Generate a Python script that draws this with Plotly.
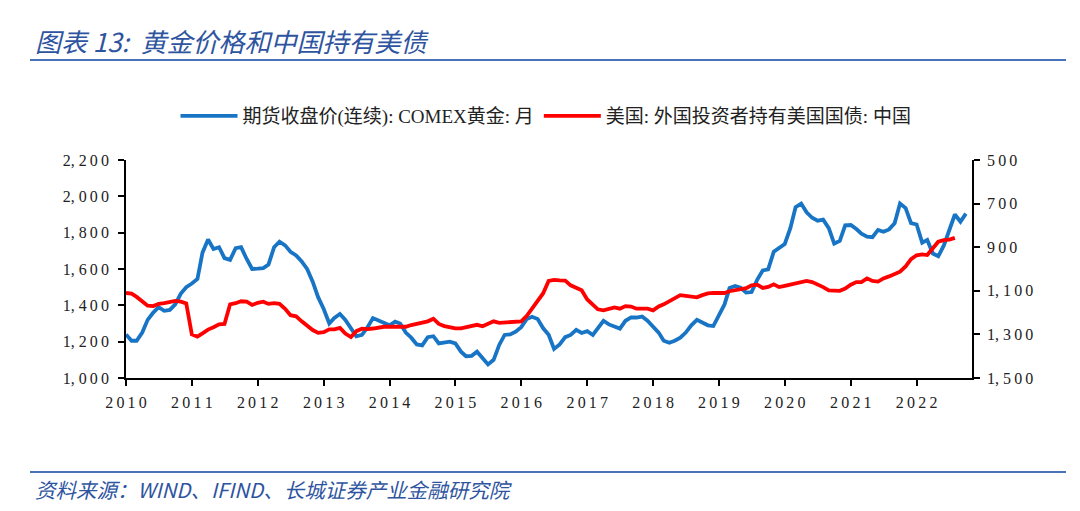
import plotly.graph_objects as go
import pandas as pd

# COMEX gold monthly close (left axis), Jan 2010 onwards
gold = [1240, 1205, 1205, 1250, 1320, 1360, 1390, 1370, 1375, 1405, 1465, 1500,
        1520, 1545, 1690, 1762, 1710, 1720, 1660, 1650, 1715, 1720, 1655, 1600,
        1602, 1605, 1625, 1720, 1750, 1730, 1695, 1675, 1642, 1600, 1530, 1445,
        1380, 1300, 1330, 1352, 1320, 1275, 1230, 1238, 1280, 1330, 1315, 1300,
        1290, 1310, 1300, 1250, 1222, 1185, 1180, 1225, 1230, 1190, 1195, 1200,
        1190, 1145, 1120, 1122, 1145, 1110, 1075, 1100, 1182, 1237, 1240, 1255,
        1280, 1325, 1337, 1325, 1275, 1238, 1160, 1185, 1225, 1237, 1265, 1248,
        1258, 1237, 1275, 1315, 1295, 1282, 1272, 1315, 1334, 1333, 1338, 1315,
        1285, 1250, 1205, 1194, 1205, 1222, 1250, 1290, 1320, 1308, 1290, 1286,
        1345, 1405, 1495, 1506, 1497, 1470, 1473, 1540, 1592, 1598, 1695, 1718,
        1738, 1825, 1940, 1960, 1912, 1882, 1866, 1872, 1825, 1740, 1755, 1840,
        1842, 1820, 1795, 1778, 1775, 1815, 1805, 1818, 1852, 1960, 1935, 1853,
        1845, 1745, 1760, 1685, 1670, 1730, 1810, 1900, 1860, 1905]

# Foreign holdings of US Treasuries: China (right axis, reversed)
ust_china = [1110, 1113, 1128, 1148, 1168, 1170, 1160, 1157, 1152, 1146, 1150, 1158,
             1300, 1310, 1295, 1278, 1267, 1254, 1252, 1162, 1157, 1148, 1150, 1165,
             1155, 1150, 1160, 1157, 1160, 1183, 1212, 1217, 1240, 1262, 1280, 1293,
             1290, 1277, 1277, 1270, 1296, 1312, 1285, 1274, 1276, 1273, 1268, 1265,
             1265, 1266, 1268, 1265, 1257, 1250, 1246, 1240, 1228, 1252, 1262, 1267,
             1272, 1272, 1268, 1260, 1256, 1263, 1250, 1240, 1247, 1245, 1242, 1242,
             1240, 1215, 1182, 1150, 1112, 1055, 1050, 1052, 1053, 1075, 1088, 1098,
             1140, 1166, 1185, 1190, 1183, 1176, 1182, 1170, 1172, 1182, 1182, 1182,
             1190, 1172, 1162, 1148, 1132, 1120, 1123, 1126, 1130, 1120, 1112, 1110,
             1110, 1110, 1102, 1097, 1094, 1088, 1075, 1072, 1087, 1082, 1070, 1083,
             1077, 1072, 1068, 1062, 1055, 1060, 1070, 1083, 1098, 1101, 1100, 1090,
             1072, 1060, 1060, 1043, 1055, 1058, 1043, 1034, 1025, 1012, 988, 955,
             937, 933, 936, 908, 875, 868, 865, 857]

years = list(range(2010, 2023))
left_ticks = [1000, 1200, 1400, 1600, 1800, 2000, 2200]
left_labels = ["1, 000", "1, 200", "1, 400", "1, 600", "1, 800", "2, 000", "2, 200"]
right_ticks = [500, 700, 900, 1100, 1300, 1500]
right_labels = ["500", "700", "900", "1, 100", "1, 300", "1, 500"]

name_gold = "期货收盘价(连续): COMEX黄金: 月"
name_ust = "美国: 外国投资者持有美国国债: 中国"
title_text = "图表 13:  黄金价格和中国持有美债"
source_text = "资料来源：WIND、IFIND、长城证券产业金融研究院"

TS = "\u2009"  # thin space to mimic the wide digit spacing


def spaced(s):
    return TS.join(s).replace(TS + "," + TS + " " + TS, ", ").replace(TS + " " + TS, " ")


dates_gold = pd.date_range("2010-01-01", periods=len(gold), freq="MS")
dates_ust = pd.date_range("2010-01-01", periods=len(ust_china), freq="MS")

SERIF = "Liberation Serif, Noto Sans CJK SC, serif"
CJK = "Noto Sans CJK SC, sans-serif"

fig = go.Figure()
fig.add_trace(go.Scatter(x=dates_gold, y=gold, name=name_gold, mode="lines",
                         line=dict(color="#1874C4", width=3.8), yaxis="y"))
fig.add_trace(go.Scatter(x=dates_ust, y=ust_china, name=name_ust, mode="lines",
                         line=dict(color="#FF0000", width=3.8), yaxis="y2"))

axis_font = dict(family=SERIF, size=16, color="#222")
common = dict(ticks="outside", ticklen=6, tickwidth=1.5, tickcolor="black",
              showline=True, linecolor="black", linewidth=1.5,
              showgrid=False, zeroline=False, tickfont=axis_font)
fig.update_layout(
    width=1080, height=511,
    margin=dict(l=126, r=108, t=160, b=133, autoexpand=False),
    paper_bgcolor="white", plot_bgcolor="white",
    showlegend=True,
    legend=dict(orientation="h", x=(546 - 126) / 846, xanchor="center", xref="paper",
                y=(511 - 133 - 116) / 218, yanchor="middle",
                font=dict(family=SERIF, size=19, color="#222"),
                itemwidth=57, tracegroupgap=0, bgcolor="rgba(0,0,0,0)"),
    xaxis=dict(type="date", range=["2010-01-01", "2022-11-04"],
               tickvals=[f"{y}-01-01" for y in years],
               ticktext=[spaced(str(y)) for y in years],
               ticklabelstandoff=3, **common),
    yaxis=dict(range=[1000, 2200], tickvals=left_ticks,
               ticktext=[spaced(t) for t in left_labels],
               ticklabelstandoff=6, **common),
    yaxis2=dict(range=[1500, 500], overlaying="y", side="right",
                tickvals=right_ticks, ticktext=[spaced(t) for t in right_labels],
                ticklabelstandoff=4, **common),
)

# Title and source annotations with rules
fig.add_annotation(text=f"<i>{title_text}</i>", xref="paper", yref="paper",
                   x=(33 - 126) / 846, y=(511 - 133 - 40) / 218, xanchor="left", yanchor="middle",
                   showarrow=False, font=dict(family=CJK, size=26, color="#2E54A0"))
fig.add_annotation(text=f"<i>{source_text}</i>", xref="paper", yref="paper",
                   x=(33 - 126) / 846, y=(511 - 133 - 489) / 218, xanchor="left", yanchor="middle",
                   showarrow=False, font=dict(family=CJK, size=20.5, color="#2E54A0"))
fig.add_shape(type="line", xref="paper", yref="paper",
              x0=(30 - 126) / 846, x1=(1066 - 126) / 846,
              y0=(511 - 133 - 60) / 218, y1=(511 - 133 - 60) / 218,
              line=dict(color="#4A72B8", width=2))
fig.add_shape(type="line", xref="paper", yref="paper",
              x0=(30 - 126) / 846, x1=(1066 - 126) / 846,
              y0=(511 - 133 - 472) / 218, y1=(511 - 133 - 472) / 218,
              line=dict(color="#4A72B8", width=2))

fig.write_html("out.html", config={"displayModeBar": False})

# remove the browser's default body margin so the figure sits at (0, 0)
with open("out.html", encoding="utf-8") as f:
    html = f.read()
html = html.replace("<body>", '<body style="margin:0;padding:0;">', 1)
with open("out.html", "w", encoding="utf-8") as f:
    f.write(html)
